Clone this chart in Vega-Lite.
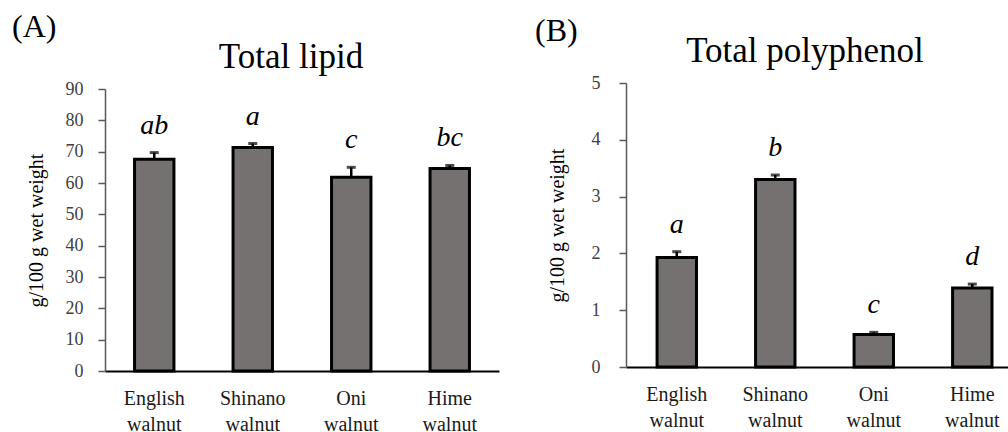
{
  "$schema": "https://vega.github.io/schema/vega-lite/v6.json",
  "padding": {"left": 12, "top": 11, "right": 0, "bottom": 0},
  "autosize": {"type": "pad"},
  "background": "#ffffff",
  "config": {
    "view": {"stroke": null},
    "font": "Liberation Serif",
    "title": {"font": "Liberation Serif", "fontWeight": "normal", "color": "#000000"},
    "axis": {"labelFont": "Liberation Serif", "titleFont": "Liberation Serif"}
  },
  "spacing": 36,
  "hconcat": [
    {
      "title": {"text": "(A)", "anchor": "start", "fontSize": 32, "dx": -14, "offset": -4},
      "vconcat": [
        {
          "title": {"text": "Total lipid", "fontSize": 35, "anchor": "middle", "dx": -11, "offset": 5},
          "width": 394,
          "height": 288,
          "data": {
            "values": [
              {"variety": "English walnut", "mean": 67.6, "upper": 69.7, "letter": "ab"},
              {"variety": "Shinano walnut", "mean": 71.3, "upper": 72.6, "letter": "a"},
              {"variety": "Oni walnut", "mean": 61.8, "upper": 65.0, "letter": "c"},
              {"variety": "Hime walnut", "mean": 64.6, "upper": 65.6, "letter": "bc"}
            ]
          },
          "encoding": {
            "x": {
              "field": "variety", "type": "nominal", "sort": null,
              "scale": {"paddingInner": 0.6, "paddingOuter": 0.3},
              "axis": {
                "title": null, "ticks": false, "domainColor": "#000000", "domainWidth": 2,
                "labelExpr": "split(datum.label, ' ')", "labelFontSize": 20, "labelLineHeight": 26,
                "labelPadding": 17, "labelAngle": 0, "labelColor": "#1a1a1a"
              }
            }
          },
          "layer": [
            {
              "mark": {"type": "bar", "fill": "#767171", "stroke": "#000000", "strokeWidth": 3},
              "encoding": {
                "y": {
                  "field": "mean", "type": "quantitative", "title": "g/100 g wet weight",
                  "scale": {"domain": [0, 90], "range": [288, 6]},
                  "axis": {
                    "values": [0, 10, 20, 30, 40, 50, 60, 70, 80, 90], "format": "d", "grid": false,
                    "domainColor": "#595959", "domainWidth": 1.5, "tickColor": "#595959", "tickWidth": 1.5,
                    "tickSize": 7, "labelPadding": 15, "labelFontSize": 18, "labelColor": "#404040",
                    "titleFontSize": 20, "titleFontWeight": "normal", "titleColor": "#000000", "titlePadding": 19
                  }
                }
              }
            },
            {
              "mark": {"type": "rule", "strokeWidth": 2.5, "color": "#000000"},
              "encoding": {
                "y": {
                  "field": "mean", "type": "quantitative", "title": "g/100 g wet weight",
                  "axis": {
                    "values": [0, 10, 20, 30, 40, 50, 60, 70, 80, 90], "format": "d", "grid": false,
                    "domainColor": "#595959", "domainWidth": 1.5, "tickColor": "#595959", "tickWidth": 1.5,
                    "tickSize": 7, "labelPadding": 15, "labelFontSize": 18, "labelColor": "#404040",
                    "titleFontSize": 20, "titleFontWeight": "normal", "titleColor": "#000000", "titlePadding": 19
                  }
                },
                "y2": {"field": "upper"}
              }
            },
            {
              "mark": {"type": "tick", "size": 9, "thickness": 3, "color": "#000000"},
              "encoding": {
                "y": {
                  "field": "upper", "type": "quantitative", "title": "g/100 g wet weight",
                  "axis": {
                    "values": [0, 10, 20, 30, 40, 50, 60, 70, 80, 90], "format": "d", "grid": false,
                    "domainColor": "#595959", "domainWidth": 1.5, "tickColor": "#595959", "tickWidth": 1.5,
                    "tickSize": 7, "labelPadding": 15, "labelFontSize": 18, "labelColor": "#404040",
                    "titleFontSize": 20, "titleFontWeight": "normal", "titleColor": "#000000", "titlePadding": 19
                  }
                }
              }
            },
            {
              "mark": {"type": "text", "fontStyle": "italic", "fontSize": 28, "baseline": "alphabetic", "dy": -19, "color": "#000000"},
              "encoding": {
                "y": {
                  "field": "upper", "type": "quantitative", "title": "g/100 g wet weight",
                  "axis": {
                    "values": [0, 10, 20, 30, 40, 50, 60, 70, 80, 90], "format": "d", "grid": false,
                    "domainColor": "#595959", "domainWidth": 1.5, "tickColor": "#595959", "tickWidth": 1.5,
                    "tickSize": 7, "labelPadding": 15, "labelFontSize": 18, "labelColor": "#404040",
                    "titleFontSize": 20, "titleFontWeight": "normal", "titleColor": "#000000", "titlePadding": 19
                  }
                },
                "text": {"field": "letter"}
              }
            }
          ]
        }
      ]
    },
    {
      "title": {"text": "(B)", "anchor": "start", "fontSize": 32, "dx": -12, "dy": 10, "offset": -4},
      "vconcat": [
        {
          "title": {"text": "Total polyphenol", "fontSize": 35, "anchor": "middle", "dx": -12, "offset": 5},
          "width": 382,
          "height": 284,
          "data": {
            "values": [
              {"variety": "English walnut", "mean": 1.93, "upper": 2.03, "letter": "a"},
              {"variety": "Shinano walnut", "mean": 3.30, "upper": 3.38, "letter": "b"},
              {"variety": "Oni walnut", "mean": 0.57, "upper": 0.61, "letter": "c"},
              {"variety": "Hime walnut", "mean": 1.39, "upper": 1.46, "letter": "d"}
            ]
          },
          "encoding": {
            "x": {
              "field": "variety", "type": "nominal", "sort": null,
              "scale": {"paddingInner": 0.6, "paddingOuter": 0.239, "align": 0.66},
              "axis": {
                "title": null, "ticks": false, "domainColor": "#000000", "domainWidth": 2,
                "labelExpr": "split(datum.label, ' ')", "labelFontSize": 20, "labelLineHeight": 26,
                "labelPadding": 17, "labelAngle": 0, "labelColor": "#1a1a1a"
              }
            }
          },
          "layer": [
            {
              "mark": {"type": "bar", "fill": "#767171", "stroke": "#000000", "strokeWidth": 3},
              "encoding": {
                "y": {
                  "field": "mean", "type": "quantitative", "title": "g/100 g wet weight",
                  "scale": {"domain": [0, 5]},
                  "axis": {
                    "values": [0, 1, 2, 3, 4, 5], "format": "d", "grid": false,
                    "domainColor": "#595959", "domainWidth": 1.5, "tickColor": "#595959", "tickWidth": 1.5,
                    "tickSize": 7, "labelPadding": 19, "labelFontSize": 18, "labelColor": "#404040",
                    "titleFontSize": 20, "titleFontWeight": "normal", "titleColor": "#000000", "titlePadding": 24
                  }
                }
              }
            },
            {
              "mark": {"type": "rule", "strokeWidth": 2.5, "color": "#000000"},
              "encoding": {
                "y": {
                  "field": "mean", "type": "quantitative", "title": "g/100 g wet weight",
                  "axis": {
                    "values": [0, 1, 2, 3, 4, 5], "format": "d", "grid": false,
                    "domainColor": "#595959", "domainWidth": 1.5, "tickColor": "#595959", "tickWidth": 1.5,
                    "tickSize": 7, "labelPadding": 19, "labelFontSize": 18, "labelColor": "#404040",
                    "titleFontSize": 20, "titleFontWeight": "normal", "titleColor": "#000000", "titlePadding": 24
                  }
                },
                "y2": {"field": "upper"}
              }
            },
            {
              "mark": {"type": "tick", "size": 9, "thickness": 3, "color": "#000000"},
              "encoding": {
                "y": {
                  "field": "upper", "type": "quantitative", "title": "g/100 g wet weight",
                  "axis": {
                    "values": [0, 1, 2, 3, 4, 5], "format": "d", "grid": false,
                    "domainColor": "#595959", "domainWidth": 1.5, "tickColor": "#595959", "tickWidth": 1.5,
                    "tickSize": 7, "labelPadding": 19, "labelFontSize": 18, "labelColor": "#404040",
                    "titleFontSize": 20, "titleFontWeight": "normal", "titleColor": "#000000", "titlePadding": 24
                  }
                }
              }
            },
            {
              "mark": {"type": "text", "fontStyle": "italic", "fontSize": 28, "baseline": "alphabetic", "dy": -19, "color": "#000000"},
              "encoding": {
                "y": {
                  "field": "upper", "type": "quantitative", "title": "g/100 g wet weight",
                  "axis": {
                    "values": [0, 1, 2, 3, 4, 5], "format": "d", "grid": false,
                    "domainColor": "#595959", "domainWidth": 1.5, "tickColor": "#595959", "tickWidth": 1.5,
                    "tickSize": 7, "labelPadding": 19, "labelFontSize": 18, "labelColor": "#404040",
                    "titleFontSize": 20, "titleFontWeight": "normal", "titleColor": "#000000", "titlePadding": 24
                  }
                },
                "text": {"field": "letter"}
              }
            }
          ]
        }
      ]
    }
  ]
}
